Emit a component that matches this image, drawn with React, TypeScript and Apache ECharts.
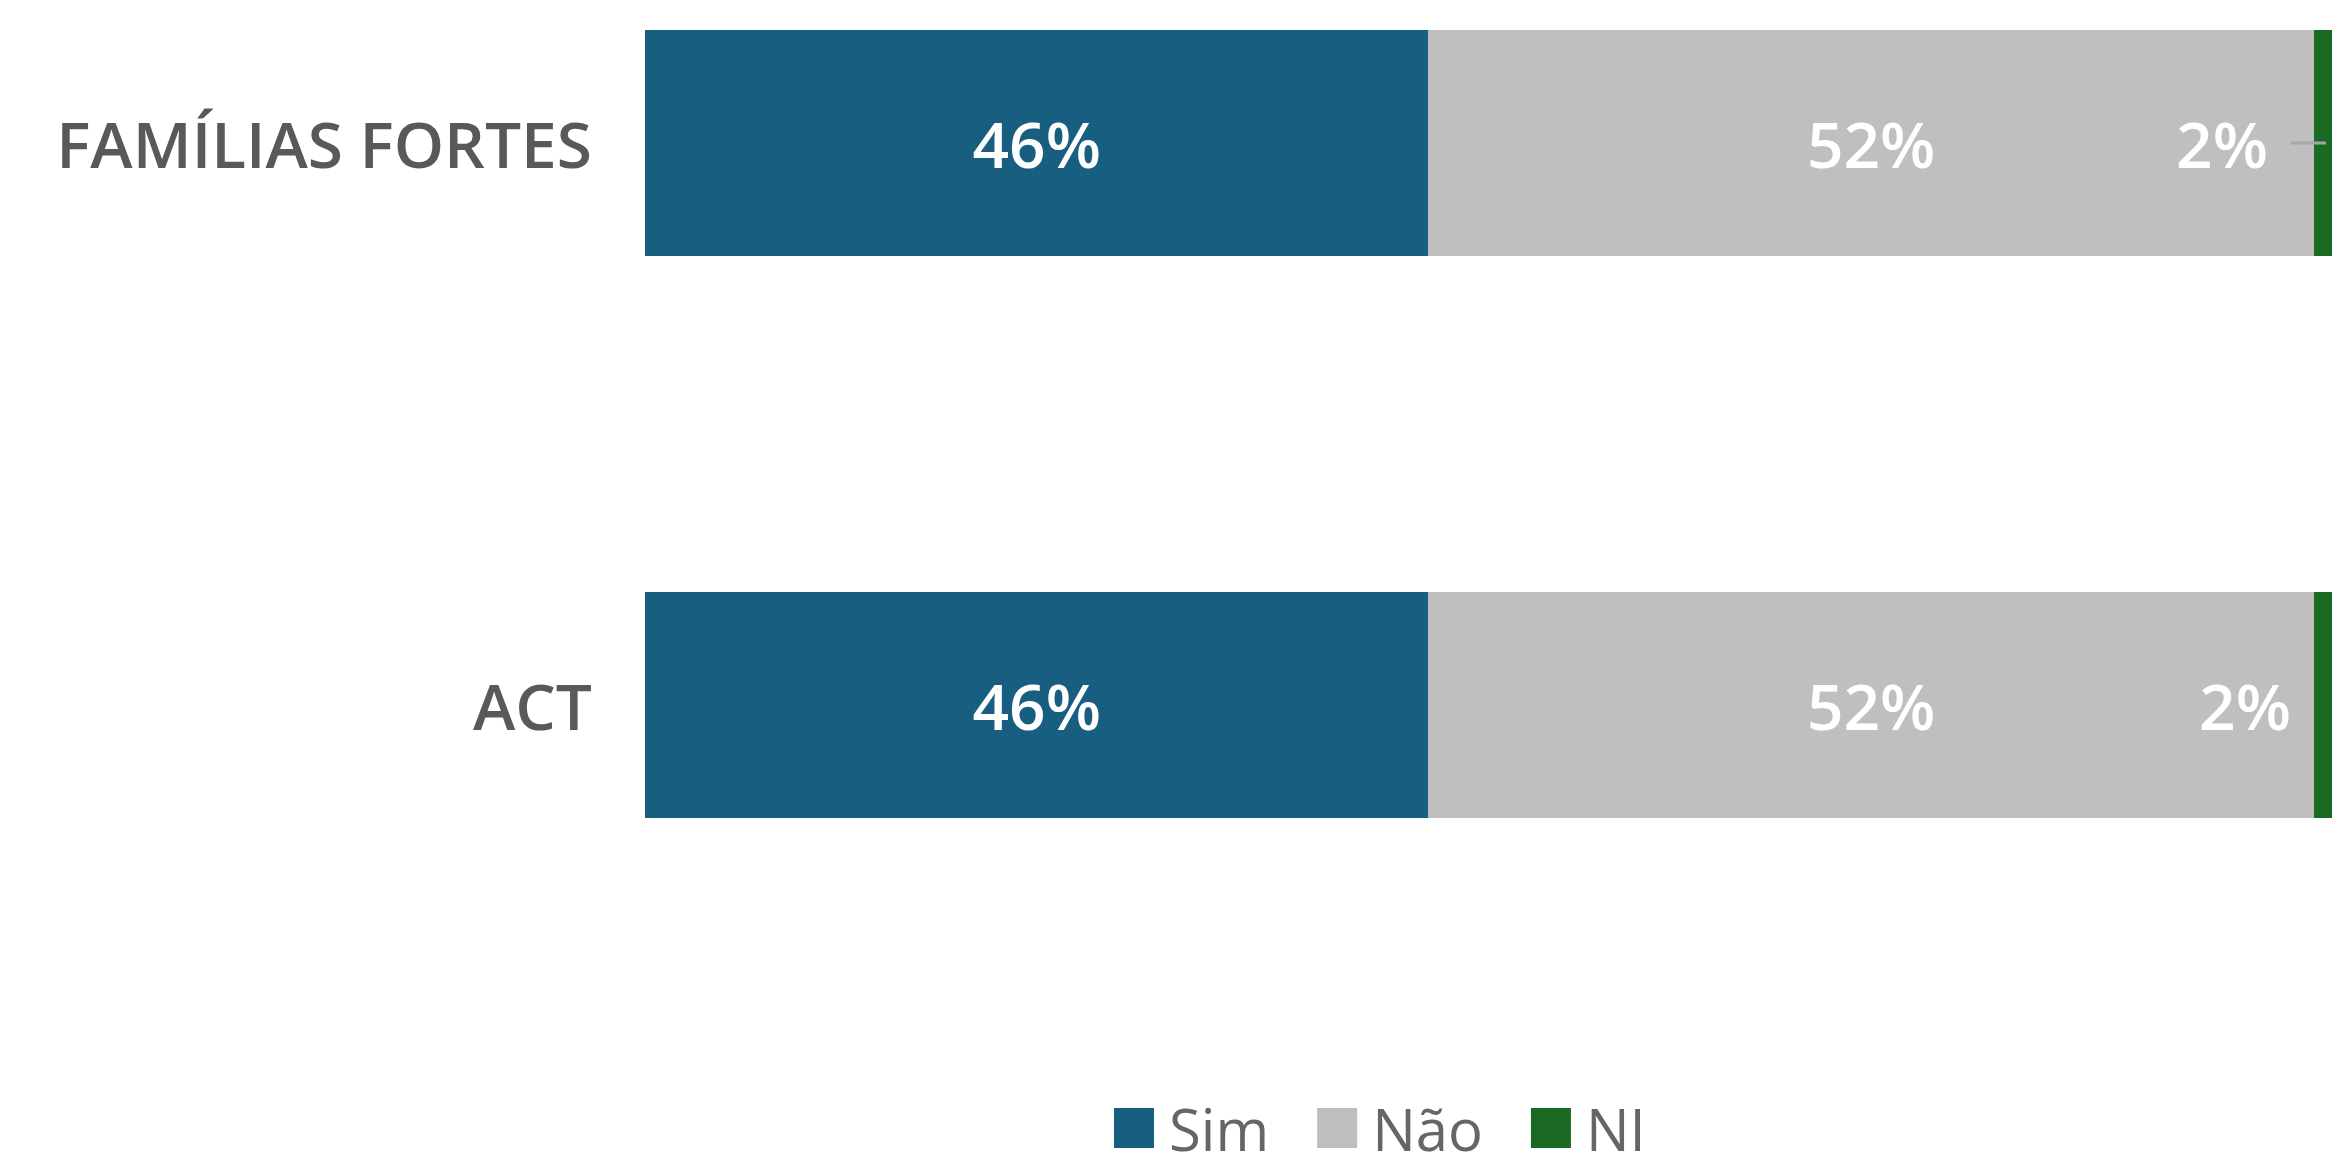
import React, { useEffect, useRef } from "react";
import * as echarts from "echarts";

const categories = ["FAMÍLIAS FORTES", "ACT"];
const seriesNames = ["Sim", "Não", "NI"];
const simValues = [46, 46];
const naoValues = [52, 52];
const niValues = [2, 2];
const colors = ["#175e80", "#bfbfbf", "#1b6a24"];

const OFFSET = 138;

export default function App() {
  const ref = useRef<HTMLDivElement>(null);
  useEffect(() => {
    if (!ref.current) return;
    const chart = echarts.init(ref.current, null, { renderer: "svg" });
    const font = "'Open Sans', sans-serif";
    const baseLabel = {
      show: true,
      color: "#ffffff",
      fontSize: 64,
      fontWeight: 600,
      fontFamily: font,
      formatter: (p: any) => p.value + "%",
    };
    chart.setOption({
      animation: false,
      backgroundColor: "#ffffff",
      grid: { left: 645, right: 0, top: 0, bottom: 170, containLabel: false },
      xAxis: { type: "value", min: 0, max: 100, show: false },
      yAxis: {
        type: "category",
        data: categories,
        inverse: true,
        axisLine: { show: false },
        axisTick: { show: false },
        splitLine: { show: false },
        axisLabel: { color: "#595959", fontSize: 64, fontWeight: 600, fontFamily: font, margin: 53 },
      },
      legend: {
        data: seriesNames,
        left: 1109,
        top: 1094 + OFFSET,
        icon: "rect",
        itemWidth: 40,
        itemHeight: 40,
        itemGap: 48,
        textStyle: {
          color: "#666666",
          fontSize: 58,
          fontFamily: font,
          padding: [0, 0, 0, 10],
        },
      },
      series: [
        {
          name: seriesNames[0],
          type: "bar",
          stack: "total",
          barWidth: 226,
          data: simValues,
          itemStyle: { color: colors[0] },
          label: { ...baseLabel, position: "inside" },
        },
        {
          name: seriesNames[1],
          type: "bar",
          stack: "total",
          barWidth: 226,
          data: naoValues,
          itemStyle: { color: colors[1] },
          label: { ...baseLabel, position: "inside" },
        },
        {
          name: seriesNames[2],
          type: "bar",
          stack: "total",
          barWidth: 226,
          data: niValues.map((v, i) =>
            i === 0
              ? {
                  value: v,
                  label: {
                    show: true,
                    position: "left",
                    distance: -12,
                    formatter: (p: any) => "{t|" + p.value + "%}{g|}{l|}",
                    rich: {
                      t: { color: "#ffffff", fontSize: 64, fontWeight: 600, fontFamily: font },
                      g: { width: 23, height: 2 },
                      l: { width: 35, height: 3, backgroundColor: "#a6a6a6" },
                    },
                  },
                }
              : { value: v }
          ),
          itemStyle: { color: colors[2] },
          label: { ...baseLabel, position: "left", distance: 23 },
        },
      ],
    });
    return () => chart.dispose();
  }, []);
  return (
    <div style={{ position: "absolute", left: 0, top: 0, width: 2332, height: 1156, overflow: "hidden" }}>
      <div
        ref={ref}
        style={{ width: 2348, height: 1156 + OFFSET, position: "absolute", left: 0, top: -OFFSET }}
      />
    </div>
  );
}
